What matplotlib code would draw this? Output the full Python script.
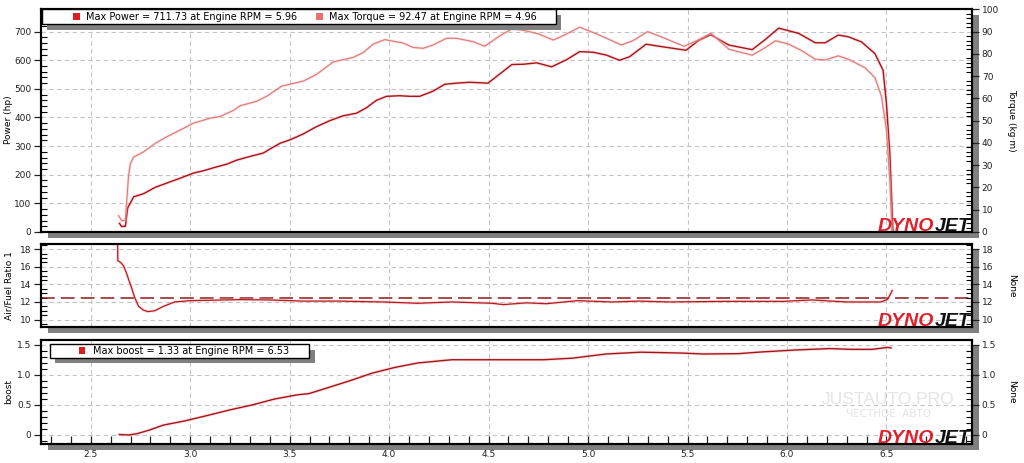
import matplotlib.pyplot as plt
from matplotlib.patches import Rectangle
from matplotlib.ticker import MultipleLocator

# --- data (rpm in thousands) ---
rpm_pw = [2.645, 2.655, 2.674, 2.686, 2.716, 2.766, 2.824, 2.883, 2.950, 3.017, 3.067,
          3.125, 3.184, 3.234, 3.301, 3.368, 3.401, 3.452, 3.502, 3.569, 3.635,
          3.702, 3.769, 3.836, 3.886, 3.936, 3.987, 4.054, 4.104, 4.154, 4.221,
          4.279, 4.338, 4.405, 4.497, 4.558, 4.617, 4.675, 4.742, 4.817, 4.892,
          4.958, 5.025, 5.092, 5.158, 5.208, 5.292, 5.375, 5.492, 5.558, 5.617,
          5.708, 5.825, 5.892, 5.958, 6.058, 6.142, 6.192, 6.258, 6.308, 6.375,
          6.442, 6.483, 6.500, 6.517, 6.533]
power = [30, 19, 20, 85, 123, 134, 156, 171, 188, 206, 214,
         226, 237, 251, 264, 276, 290, 310, 322, 343, 368,
         389, 406, 415, 434, 460, 474, 476, 474, 474, 492,
         516, 520, 523, 520, 553, 585, 586, 591, 577, 602,
         630, 628, 618, 600, 612, 656, 647, 635, 670, 689,
         653, 637, 673, 712, 694, 661, 661, 688, 682, 664,
         623, 565, 448, 273, 0]

rpm_tq = [2.640, 2.657, 2.674, 2.690, 2.699, 2.716, 2.766, 2.824, 2.883, 2.950,
          3.017, 3.100, 3.151, 3.217, 3.251, 3.334, 3.385, 3.460, 3.569, 3.635,
          3.719, 3.819, 3.870, 3.920, 3.978, 4.070, 4.120, 4.171, 4.221, 4.288,
          4.338, 4.422, 4.480, 4.558, 4.617, 4.675, 4.750, 4.825, 4.883, 4.958,
          5.042, 5.100, 5.167, 5.225, 5.300, 5.375, 5.483, 5.558, 5.617, 5.708,
          5.825, 5.892, 5.942, 6.008, 6.075, 6.142, 6.192, 6.258, 6.308, 6.392,
          6.442, 6.475, 6.500, 6.517, 6.528]
torque = [7.3, 5.0, 5.3, 25.0, 30.7, 33.7, 36.0, 39.8, 42.8, 45.8,
          48.9, 51.1, 51.9, 54.6, 56.7, 58.7, 61.0, 65.5, 67.8, 70.8,
          76.4, 78.4, 80.6, 84.4, 86.4, 84.9, 82.9, 82.5, 84.0, 87.0,
          87.0, 85.5, 83.4, 88.2, 91.2, 90.6, 89.0, 86.2, 88.5, 92.0,
          89.0, 86.7, 84.0, 85.9, 90.0, 87.4, 83.4, 86.4, 89.3, 82.1,
          79.4, 82.9, 85.9, 84.4, 81.4, 77.6, 77.3, 79.1, 77.6, 73.8,
          69.3, 61.0, 45.8, 23.1, 0]

rpm_afr = [2.635, 2.636, 2.650, 2.664, 2.678, 2.693, 2.707, 2.721, 2.741, 2.764,
           2.787, 2.822, 2.865, 2.922, 3.000, 3.109, 3.253, 3.397, 3.569, 3.741,
           3.971, 4.144, 4.316, 4.517, 4.575, 4.690, 4.790, 4.948, 5.121, 5.259,
           5.408, 5.695, 5.983, 6.126, 6.299, 6.471, 6.506, 6.529]
afr = [19.5, 16.7, 16.5, 16.15, 15.4, 14.4, 13.5, 12.5, 11.5, 11.08,
       10.9, 11.0, 11.5, 12.0, 12.15, 12.2, 12.27, 12.23, 12.1, 12.1,
       12.0, 11.85, 12.0, 11.85, 11.7, 11.9, 11.8, 12.15, 12.0, 12.1,
       12.0, 12.07, 12.07, 12.23, 12.0, 12.0, 12.3, 13.3]
afr_target = 12.5

rpm_boost = [2.644, 2.693, 2.736, 2.793, 2.865, 2.966, 3.080, 3.195, 3.310, 3.425,
             3.540, 3.598, 3.684, 3.799, 3.914, 4.029, 4.144, 4.259, 4.316, 4.546,
             4.776, 4.920, 5.092, 5.264, 5.466, 5.580, 5.753, 5.868, 6.040, 6.213,
             6.328, 6.428, 6.506, 6.523]
boost = [0.008, 0.0, 0.025, 0.08, 0.165, 0.23, 0.32, 0.415, 0.50, 0.60,
         0.67, 0.69, 0.78, 0.90, 1.03, 1.126, 1.20, 1.237, 1.254, 1.254,
         1.254, 1.28, 1.35, 1.38, 1.366, 1.35, 1.355, 1.383, 1.416, 1.44,
         1.427, 1.427, 1.46, 1.45]

legend_top = ["Max Power = 711.73 at Engine RPM = 5.96",
              "Max Torque = 92.47 at Engine RPM = 4.96"]
legend_boost = "Max boost = 1.33 at Engine RPM = 6.53"

W, H = 1024, 463
fig = plt.figure(figsize=(10.24, 4.63), dpi=100)
plt.rcParams['font.family'] = 'DejaVu Sans'


def fr(x0, y0, x1, y1):
    # pixel box (top-left origin) -> figure fraction rect
    return [x0 / W, 1 - y1 / H, (x1 - x0) / W, (y1 - y0) / H]


def prect(x0, y0, x1, y1, **kw):
    l, b, w, h = fr(x0, y0, x1, y1)
    fig.add_artist(Rectangle((l, b), w, h, transform=fig.transFigure, **kw))


def ptext(x, y, s, **kw):
    fig.text(x / W, 1 - y / H, s, **kw)


GRID = dict(color='#c4c4c4', linestyle=(0, (4, 3)), linewidth=0.8)
one_dec = plt.FuncFormatter(lambda v, p: "0" if abs(v) < 1e-9 else f"{v:.1f}")


def setup(ax, ylim, major, minor, xticks=False):
    ax.set_xlim(2.25, 6.93)
    ax.set_ylim(*ylim)
    ax.xaxis.set_major_locator(MultipleLocator(0.5))
    ax.xaxis.set_minor_locator(MultipleLocator(0.1))
    ax.yaxis.set_major_locator(MultipleLocator(major))
    ax.yaxis.set_minor_locator(MultipleLocator(minor))
    ax.grid(True, which='major', **GRID)
    ax.set_axisbelow(True)
    ax.tick_params(axis='y', which='major', direction='out', length=5, width=0.9,
                   labelsize=6.5, pad=2, colors='#222222')
    ax.tick_params(axis='y', which='minor', direction='in', length=4, width=0.8)
    if xticks:
        ax.tick_params(axis='x', which='both', direction='in', length=6, width=0.9,
                       labelsize=6.5, pad=4, colors='#222222')
        ax.xaxis.set_major_formatter(plt.FuncFormatter(lambda v, p: f"{v:.1f}"))
    else:
        ax.tick_params(axis='x', which='both', bottom=False, labelbottom=False)
    for s in ax.spines.values():
        s.set_linewidth(1.5)


def twin(ax, ylim, major, minor):
    t = ax.twinx()
    t.set_ylim(*ylim)
    t.yaxis.set_major_locator(MultipleLocator(major))
    t.yaxis.set_minor_locator(MultipleLocator(minor))
    t.tick_params(axis='y', which='major', direction='out', length=5, width=0.9,
                  labelsize=6.5, pad=2, colors='#222222')
    t.tick_params(axis='y', which='minor', direction='in', length=4, width=0.8)
    for s in t.spines.values():
        s.set_linewidth(1.5)
    return t


def logo(x_right, y_base):
    ptext(x_right, y_base, "JET", ha='right', va='baseline', fontsize=14,
          fontweight='bold', style='italic', family='Liberation Sans', color='#111111', zorder=6)
    ptext(x_right - 37, y_base, "DYNO", ha='right', va='baseline', fontsize=14,
          fontweight='bold', style='italic', family='Liberation Sans', color='#e0202a', zorder=6)


panels = [(41, 9, 972, 232), (41, 244, 972, 327), (41, 340, 972, 444)]
for p in panels:
    prect(p[0] + 7, p[1] + 6, p[2] + 7, p[3] + 6, facecolor='#808080', edgecolor='none', zorder=-1)

# --- power / torque ---
ax1 = fig.add_axes(fr(*panels[0]))
setup(ax1, (0, 779), 100, 20)
ax1t = twin(ax1, (0, 779 * 90 / 700), 10, 2)
ax1t.plot(rpm_tq, torque, color='#f6c4c4', lw=2.2, alpha=0.35)
ax1t.plot(rpm_tq, torque, color='#e07c7c', lw=0.9)
ax1.plot(rpm_pw, power, color='#f2a8a8', lw=2.4, alpha=0.35)
ax1.plot(rpm_pw, power, color='#a8121a', lw=1.0)

# --- air/fuel ---
ax2 = fig.add_axes(fr(*panels[1]))
setup(ax2, (9.15, 18.6), 2, 0.5)
twin(ax2, (9.15, 18.6), 2, 0.5)
ax2.axhline(afr_target, color='#8c1a1a', lw=1.1, linestyle=(0, (9, 4)))
ax2.plot(rpm_afr, afr, color='#f2a8a8', lw=2.2, alpha=0.35)
ax2.plot(rpm_afr, afr, color='#b8181f', lw=0.9)

# --- boost ---
ax3 = fig.add_axes(fr(*panels[2]))
setup(ax3, (-0.15, 1.583), 0.5, 0.1, xticks=True)
ax3t = twin(ax3, (-0.15, 1.583), 0.5, 0.1)
ax3.yaxis.set_major_formatter(one_dec)
ax3t.yaxis.set_major_formatter(one_dec)
ax3.plot(rpm_boost, boost, color='#f2a8a8', lw=2.4, alpha=0.35)
ax3.plot(rpm_boost, boost, color='#a8121a', lw=1.0)

# axis titles
ptext(9, 120, "Power (hp)", rotation=90, ha='center', va='center', fontsize=6.5)
ptext(1012, 120, "Torque (kg·m)", rotation=270, ha='center', va='center', fontsize=6.5)
ptext(9, 286, "Air/Fuel Ratio 1", rotation=90, ha='center', va='center', fontsize=6.5)
ptext(1012, 286, "None", rotation=270, ha='center', va='center', fontsize=6.5)
ptext(9, 392, "boost", rotation=90, ha='center', va='center', fontsize=6.5)
ptext(1012, 392, "None", rotation=270, ha='center', va='center', fontsize=6.5)

# watermark
ptext(888, 399, "JUSTAUTO.PRO", ha='center', va='center', fontsize=12.5,
      family='Liberation Sans', color='#e4e4e4', zorder=3)
ptext(889, 414, "ЧЕСТНОЕ  АВТО", ha='center', va='center', fontsize=7.5,
      color='#e4e4e4', zorder=3)

# legends (drawn boxes with drop shadows)
prect(47, 15, 561, 30, facecolor='#808080', edgecolor='none', zorder=4)
prect(42, 9, 556, 24, facecolor='white', edgecolor='black', lw=1.0, zorder=5)
prect(73, 13, 80, 20, facecolor='#dd1c1c', edgecolor='none', zorder=6)
ptext(86, 16.5, legend_top[0], ha='left', va='center', fontsize=7, zorder=6)
prect(316, 13, 323, 20, facecolor='#ee6e6e', edgecolor='none', zorder=6)
ptext(329, 16.5, legend_top[1], ha='left', va='center', fontsize=7, zorder=6)

prect(55, 350, 315, 363, facecolor='#808080', edgecolor='none', zorder=4)
prect(50, 344, 309, 358, facecolor='white', edgecolor='black', lw=1.0, zorder=5)
prect(79, 347, 85, 354, facecolor='#dd1c1c', edgecolor='none', zorder=6)
ptext(93, 351, legend_boost, ha='left', va='center', fontsize=7, zorder=6)

logo(971, 231)
logo(971, 326)
logo(971, 443)

fig.savefig("out.png", dpi=100)
